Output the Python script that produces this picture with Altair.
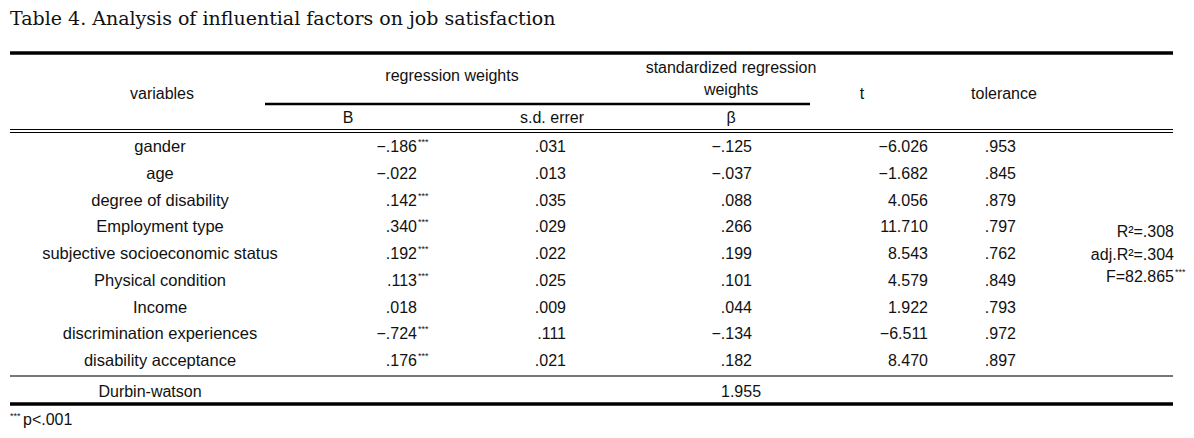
import altair as alt
import pandas as pd

# ---------------- data ----------------
title_text = "Table 4. Analysis of influential factors on job satisfaction"
variables = ["gander", "age", "degree of disability", "Employment type",
             "subjective socioeconomic status", "Physical condition", "Income",
             "discrimination experiences", "disability acceptance"]
B = ["\u2212.186", "\u2212.022", ".142", ".340", ".192", ".113", ".018", "\u2212.724", ".176"]
B_sig = ["***", "", "***", "***", "***", "***", "", "***", "***"]
SE = [".031", ".013", ".035", ".029", ".022", ".025", ".009", ".111", ".021"]
beta = ["\u2212.125", "\u2212.037", ".088", ".266", ".199", ".101", ".044", "\u2212.134", ".182"]
t_vals = ["\u22126.026", "\u22121.682", "4.056", "11.710", "8.543", "4.579", "1.922", "\u22126.511", "8.470"]
tolerance = [".953", ".845", ".879", ".797", ".762", ".849", ".793", ".972", ".897"]
model_stats = ["R\u00b2=.308", "adj.R\u00b2=.304", "F=82.865"]
model_sig = ["", "", "***"]
durbin_label = "Durbin-watson"
durbin_value = "1.955"
footnote = "p<.001"
footnote_sig = "***"

header_top = ["variables", "regression weights", "standardized regression", "weights", "t", "tolerance"]
header_sub = ["B", "s.d. errer", "\u03b2"]

# ---------------- layout ----------------
FONT = "Liberation Sans"
SERIF = "DejaVu Serif"
FS = 16
row0, step = 147, 26.75
row_y = [row0 + i * step for i in range(len(variables))]

texts = []
def add(txt, x, y, align="center", size=FS, font=FONT, color="#111"):
    texts.append(dict(txt=txt, x=x, y=y, align=align, size=size, font=font, color=color))

add(title_text, 10, 19, "left", 19, SERIF)
# header
add(header_top[0], 162, 94)
add(header_top[1], 452, 76)
add(header_top[2], 731, 68)
add(header_top[3], 731, 90)
add(header_top[4], 862, 94)
add(header_top[5], 1004, 94)
add(header_sub[0], 348, 118)
add(header_sub[1], 552, 118)
add(header_sub[2], 731, 118)

for i, y in enumerate(row_y):
    add(variables[i], 160, y, size=16.5)
    add(B[i], 417, y, "right")
    if B_sig[i]:
        add(B_sig[i], 418, y - 5, "left", 9)
    add(SE[i], 566, y, "right")
    add(beta[i], 752, y, "right")
    add(t_vals[i], 928, y, "right")
    add(tolerance[i], 1016, y, "right")

stat_y = [232, 255, 277]
for s, sg, y in zip(model_stats, model_sig, stat_y):
    add(s, 1174, y, "right")
    if sg:
        add(sg, 1175, y - 5, "left", 9)

add(durbin_label, 150, 392)
add(durbin_value, 741, 392)
add(footnote_sig, 10, 416, "left", 9)
add(footnote, 23, 420, "left")

tdf = pd.DataFrame(texts)

rules = pd.DataFrame([
    dict(x=10, x2=1173, y=53, w=3.5, c="#000"),
    dict(x=265, x2=810, y=104, w=2.5, c="#000"),
    dict(x=10, x2=1173, y=129.5, w=1.2, c="#000"),
    dict(x=10, x2=1173, y=132.5, w=1.2, c="#000"),
    dict(x=10, x2=1173, y=376, w=2, c="#777"),
    dict(x=10, x2=1173, y=404, w=3.5, c="#000"),
])

W, H = 1178, 422
xs = alt.Scale(domain=[8, 8 + W], range=[0, W], nice=False, zero=False)
ys = alt.Scale(domain=[8, 8 + H], range=[0, H], nice=False, zero=False)

rule_layer = alt.Chart(rules).mark_rule().encode(
    x=alt.X("x:Q", scale=xs, axis=None),
    x2="x2:Q",
    y=alt.Y("y:Q", scale=ys, axis=None),
    size=alt.Size("w:Q", scale=None, legend=None),
    color=alt.Color("c:N", scale=None, legend=None),
)

layers = [rule_layer]
for (align, size, font), g in tdf.groupby(["align", "size", "font"]):
    layers.append(
        alt.Chart(g).mark_text(align=align, baseline="middle", fontSize=size, font=font).encode(
            x=alt.X("x:Q", scale=xs, axis=None),
            y=alt.Y("y:Q", scale=ys, axis=None),
            text="txt:N",
            color=alt.Color("color:N", scale=None, legend=None),
        )
    )

chart = alt.layer(*layers).properties(
    width=W, height=H, padding=0, autosize=alt.AutoSizeParams(type="none"),
    background="white",
).configure_view(stroke=None)

chart.save("out.html", embed_options={"renderer": "svg", "actions": False})
